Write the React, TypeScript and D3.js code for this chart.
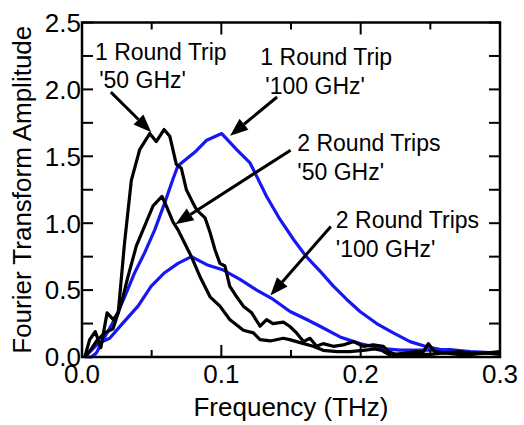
import React from 'react';
import * as d3 from 'd3';

// series: [frequency (THz), amplitude]
const oneTrip50: [number, number][] = [
  [0.002, 0.0], [0.0055, 0.13], [0.0095, 0.19], [0.0135, 0.07], [0.018, 0.33], [0.0225, 0.28],
  [0.026, 0.33], [0.0305, 0.85], [0.0354, 1.32], [0.0414, 1.55], [0.0486, 1.67], [0.0533, 1.61],
  [0.0589, 1.7], [0.063, 1.65], [0.0677, 1.44], [0.0713, 1.41], [0.0749, 1.25], [0.0797, 1.15],
  [0.0823, 1.1], [0.0883, 1.04], [0.0919, 0.93], [0.0955, 0.8], [0.099, 0.7], [0.1026, 0.68],
  [0.106, 0.53], [0.111, 0.45], [0.1158, 0.38], [0.1218, 0.33], [0.1278, 0.23], [0.1325, 0.28],
  [0.137, 0.25], [0.1445, 0.26], [0.149, 0.23], [0.154, 0.18], [0.159, 0.115], [0.1636, 0.14],
  [0.1684, 0.08], [0.173, 0.1], [0.1804, 0.08], [0.1875, 0.09], [0.1947, 0.115], [0.2019, 0.08],
  [0.209, 0.09], [0.2163, 0.08], [0.22, 0.04], [0.225, 0.02], [0.232, 0.03], [0.24, 0.04],
  [0.245, 0.04], [0.2486, 0.1], [0.253, 0.04], [0.26, 0.03], [0.27, 0.04], [0.28, 0.03],
  [0.29, 0.03], [0.3, 0.04],
];

const twoTrips50: [number, number][] = [
  [0.002, 0.0], [0.006, 0.05], [0.0105, 0.12], [0.0163, 0.18], [0.0222, 0.21], [0.0282, 0.4],
  [0.033, 0.6], [0.039, 0.83], [0.045, 0.98], [0.051, 1.13], [0.0574, 1.2], [0.0605, 1.13],
  [0.0653, 1.01], [0.0689, 0.95], [0.0737, 0.85], [0.0785, 0.75], [0.0847, 0.6], [0.0919, 0.45],
  [0.099, 0.38], [0.106, 0.28], [0.1158, 0.2], [0.123, 0.18], [0.1278, 0.13], [0.135, 0.12],
  [0.1445, 0.14], [0.149, 0.13], [0.159, 0.1], [0.166, 0.08], [0.173, 0.05], [0.183, 0.04],
  [0.192, 0.04], [0.2019, 0.05], [0.21, 0.06], [0.215, 0.05], [0.22, 0.02], [0.23, 0.02],
  [0.24, 0.02], [0.25, 0.02], [0.26, 0.03], [0.27, 0.02], [0.28, 0.02], [0.29, 0.03], [0.3, 0.02],
];

const oneTrip100: [number, number][] = [
  [0.002, 0.0], [0.0067, 0.0], [0.0103, 0.03], [0.0163, 0.15], [0.0234, 0.28], [0.0306, 0.45],
  [0.0378, 0.63], [0.045, 0.78], [0.0522, 0.95], [0.0593, 1.15], [0.0653, 1.33], [0.0689, 1.43],
  [0.076, 1.49], [0.0809, 1.53], [0.0895, 1.62], [0.1003, 1.67], [0.111, 1.55], [0.1206, 1.45],
  [0.1254, 1.35], [0.1325, 1.2], [0.142, 1.03], [0.1517, 0.88], [0.161, 0.75], [0.171, 0.64],
  [0.1804, 0.53], [0.19, 0.43], [0.1995, 0.34], [0.2115, 0.25], [0.2234, 0.18], [0.2354, 0.115],
  [0.2474, 0.077], [0.2593, 0.052], [0.2737, 0.04], [0.2833, 0.028], [0.3, 0.028],
];

const twoTrips100: [number, number][] = [
  [0.002, 0.0], [0.0067, 0.05], [0.0115, 0.1], [0.0199, 0.14], [0.0282, 0.24], [0.0402, 0.38],
  [0.0497, 0.53], [0.0593, 0.63], [0.0689, 0.7], [0.0785, 0.75], [0.0895, 0.69], [0.1014, 0.65],
  [0.1134, 0.58], [0.1254, 0.5], [0.1373, 0.43], [0.1493, 0.34], [0.1613, 0.28], [0.1708, 0.23],
  [0.1852, 0.15], [0.1995, 0.1], [0.2139, 0.065], [0.2282, 0.052], [0.2474, 0.052], [0.264, 0.055],
  [0.2785, 0.04], [0.3, 0.03],
];

const xTicks = [0, 0.1, 0.2, 0.3];
const yTicks = [0, 0.5, 1.0, 1.5, 2.0, 2.5];

// annotation text: [x, y, line1, line2] and arrows [x1, y1, x2, y2] in data units
const labels: [number, number, string, string][] = [
  [0.0093, 2.22, '1 Round Trip', "'50 GHz'"],
  [0.128, 2.18, '1 Round Trip', "'100 GHz'"],
  [0.1545, 1.536, '2 Round Trips', "'50 GHz'"],
  [0.1822, 0.963, '2 Round Trips', "'100 GHz'"],
];
const labelIndent = [0.003, 0.0036, 0, 0];
const arrows: [number, number, number, number][] = [
  [0.0207, 1.98, 0.0497, 1.68],
  [0.14, 1.943, 0.1063, 1.654],
  [0.1497, 1.546, 0.067, 0.993],
  [0.1786, 0.975, 0.1352, 0.46],
];

const W = 524;
const H = 425;
const left = 82;
const right = 500;
const top = 22.5;
const bottom = 357;
const font = 'Arial, "Liberation Sans", Helvetica, sans-serif';
const blue = '#1717f2';

export default function App() {
  const x = d3.scaleLinear().domain([0, 0.3]).range([left, right]);
  const y = d3.scaleLinear().domain([0, 2.5]).range([bottom, top]);
  const line = d3.line<[number, number]>().x(d => x(d[0])).y(d => y(d[1]));

  const xMinor = d3.range(0, 0.3001, 0.05);
  const yMinor = d3.range(0, 2.5001, 0.25);

  const arrowHead = (a: [number, number, number, number], i: number) => {
    const x1 = x(a[0]), y1 = y(a[1]), x2 = x(a[2]), y2 = y(a[3]);
    const ang = Math.atan2(y2 - y1, x2 - x1);
    const len = 18, hw = 7;
    const bx = x2 - len * Math.cos(ang), by = y2 - len * Math.sin(ang);
    const px = -Math.sin(ang) * hw, py = Math.cos(ang) * hw;
    return (
      <g key={i}>
        <line x1={x1} y1={y1} x2={bx} y2={by} stroke="#000" strokeWidth={3} />
        <polygon points={`${x2},${y2} ${bx + px},${by + py} ${bx - px},${by - py}`} fill="#000" />
      </g>
    );
  };

  return (
    <svg width={W} height={H} style={{ position: 'absolute', left: 0, top: 0, background: '#fff' }}
      fontFamily={font}>
      {/* data */}
      <g fill="none" strokeWidth={3.2} strokeLinejoin="round">
        <path d={line(twoTrips100)!} stroke={blue} />
        <path d={line(oneTrip100)!} stroke={blue} />
        <path d={line(twoTrips50)!} stroke="#000" />
        <path d={line(oneTrip50)!} stroke="#000" />
      </g>

      {/* ticks */}
      <g stroke="#000" strokeWidth={2}>
        {xMinor.map((t, i) => {
          const len = i % 2 === 0 ? 12 : 7;
          return (
            <g key={'x' + i}>
              <line x1={x(t)} x2={x(t)} y1={bottom} y2={bottom - len} />
              <line x1={x(t)} x2={x(t)} y1={top} y2={top + len} />
            </g>
          );
        })}
        {yMinor.map((t, i) => (
          <g key={'y' + i}>
            <line x1={left} x2={left + 11} y1={y(t)} y2={y(t)} />
            <line x1={right} x2={right - 11} y1={y(t)} y2={y(t)} />
          </g>
        ))}
      </g>
      <rect x={left} y={top} width={right - left} height={bottom - top} fill="none" stroke="#000" strokeWidth={2.5} />

      {/* tick labels */}
      <g fontSize={26} fill="#000">
        {xTicks.map(t => (
          <text key={'xl' + t} x={x(t)} y={383} textAnchor="middle">{d3.format('.1f')(t)}</text>
        ))}
        {yTicks.map(t => (
          <text key={'yl' + t} x={81} y={y(t)} dy="0.36em" textAnchor="end">{d3.format('.1f')(t)}</text>
        ))}
      </g>

      {/* axis titles */}
      <text x={(left + right) / 2} y={416} textAnchor="middle" fontSize={26}>Frequency (THz)</text>
      <text transform={`translate(31,${(top + bottom) / 2}) rotate(-90)`} textAnchor="middle" fontSize={26}>
        Fourier Transform Amplitude
      </text>

      {/* annotations */}
      <g fontSize={23} fill="#000">
        {labels.map((l, i) => (
          <g key={'lab' + i}>
            <text x={x(l[0])} y={y(l[1])}>{l[2]}</text>
            <text x={x(l[0] + labelIndent[i])} y={y(l[1]) + 28.5}>{l[3]}</text>
          </g>
        ))}
      </g>
      {arrows.map(arrowHead)}
    </svg>
  );
}
